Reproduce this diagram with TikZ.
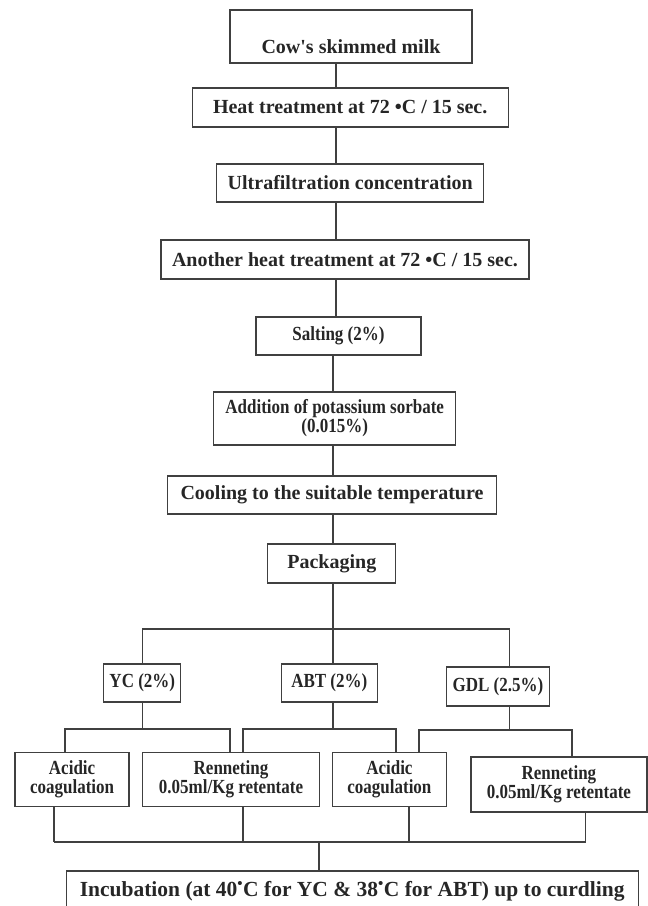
\documentclass[tikz,border=0pt]{standalone}
\usepackage{fontspec}
\setmainfont{Liberation Serif}
\newfontfamily\narrowfont{Liberation Serif}[FakeStretch=0.85]

\tikzset{x=1pt, y=-1pt}
\tikzset{stepbox/.style={draw=black!75, line width=1.3pt, text=black!85, inner sep=0pt, align=center,
  font=\bfseries\fontsize{20}{20}\selectfont},
  narrowbox/.style={stepbox, font=\narrowfont\bfseries\fontsize{20}{19}\selectfont},
  link/.style={draw=black!75, line width=1.3pt}}

\begin{document}
\begin{tikzpicture}
\useasboundingbox (0,0) rectangle (648,906);
% main line of steps
\node[stepbox, minimum width=242pt, text height=38pt, text depth=5pt, inner ysep=5pt] (milk) at (351,36.5) {Cow\textquotesingle s skimmed milk};
\node[stepbox, minimum width=316pt, minimum height=39pt] (heat) at (350.2,107.5) {Heat treatment at 72 \textbullet C / 15 sec.};
\node[stepbox, minimum width=267pt, minimum height=38pt] (uf) at (350.2,183) {Ultrafiltration concentration};
\node[stepbox, minimum width=368pt, minimum height=39pt] (again) at (345,259.5) {Another heat treatment at 72 \textbullet C / 15 sec.};
\node[narrowbox, minimum width=165pt, minimum height=38pt] (salt) at (338.5,336) {Salting (2\%)};
\node[narrowbox, minimum width=242pt, minimum height=53pt] (sorb) at (334.7,418.5) {Addition of potassium sorbate\\(0.015\%)};
\node[stepbox, minimum width=329pt, minimum height=38pt] (cool) at (332,495) {Cooling to the suitable temperature};
\node[stepbox, minimum width=128pt, minimum height=39pt] (pack) at (331.8,563.5) {Packaging};
% starters
\node[narrowbox, minimum width=77pt, minimum height=38pt] (yc) at (142.3,683) {YC (2\%)};
\node[narrowbox, minimum width=96pt, minimum height=38pt] (abt) at (329.3,683) {ABT (2\%)};
\node[narrowbox, minimum width=103pt, minimum height=39pt] (gdl) at (498,686.5) {GDL (2.5\%)};
% coagulation
\node[narrowbox, minimum width=114pt, minimum height=54pt] (acidA) at (72.1,779.5) {Acidic\\coagulation};
\node[narrowbox, minimum width=177pt, minimum height=54pt] (renA) at (231,779.5) {Renneting\\0.05ml/Kg retentate};
\node[narrowbox, minimum width=114pt, minimum height=54pt] (acidB) at (389.4,779.5) {Acidic\\coagulation};
\node[narrowbox, minimum width=176pt, minimum height=55pt] (renB) at (558.9,784.5) {Renneting\\0.05ml/Kg retentate};
\node[stepbox, font=\bfseries\fontsize{21.5}{22}\selectfont, minimum width=572pt, minimum height=40pt] (incub) at (352.2,891) {Incubation (at 40\textsuperscript{\textbullet}C for YC \& 38\textsuperscript{\textbullet}C for ABT) up to curdling};

% vertical links, edit here for the trunk x
\coordinate (up) at (336,0);
\coordinate (lo) at (333,0);
\foreach \a/\b in {milk/heat, heat/uf, uf/again, again/salt}
 \draw[link] (\a.south -| up) -- (\b.north -| up);
\foreach \a/\b in {salt/sorb, sorb/cool, cool/pack}
 \draw[link] (\a.south -| lo) -- (\b.north -| lo);

% three way fork
\coordinate (fork) at (333,629);
\coordinate (forkR) at (509.5,629);
\draw[link] (pack.south -| fork) -- (fork);
\draw[link] (yc.north) |- (forkR) -- (gdl.north -| forkR);
\draw[link] (fork) -- (abt.north -| fork);

% two way forks
\foreach \p/\px/\fy/\l/\lx/\r/\rx in {yc/142.5/729/acidA/65/renA/230, abt/333/729/renA/243/acidB/396, gdl/509.5/730/acidB/419/renB/572}{
 \coordinate (mid) at (\px,\fy);
 \coordinate (lft) at (\lx,\fy);
 \coordinate (rgt) at (\rx,\fy);
 \draw[link] (\p.south -| mid) -- (mid);
 \draw[link] (\l.north -| lft) -- (lft) -- (rgt) -- (\r.north -| rgt);
}

% joining to incubation
\foreach \n/\nx in {acidA/54, renA/243, acidB/409, renB/585.5}{
 \coordinate (b\n) at (\nx,842);
 \draw[link] (\n.south -| b\n) -- (b\n);}
\draw[link] (bacidA) -- (brenB);
\coordinate (join) at (319,842);
\draw[link] (join) -- (incub.north -| join);
\end{tikzpicture}
\end{document}
